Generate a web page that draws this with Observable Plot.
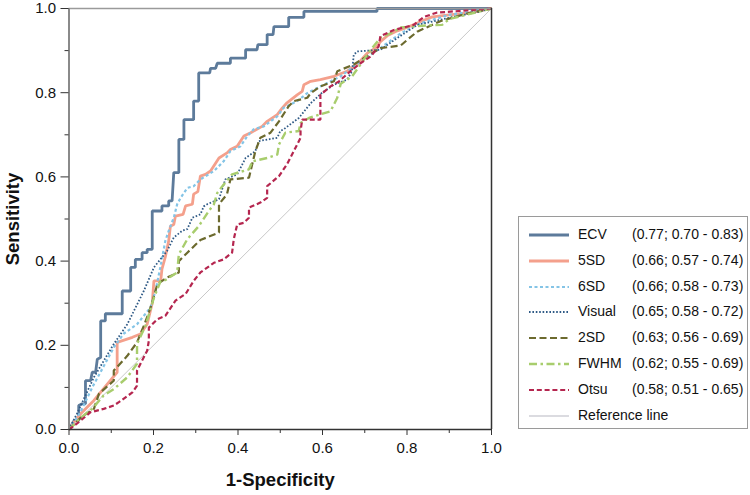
<!DOCTYPE html>
<html>
<head>
<meta charset="utf-8">
<script src="https://cdn.jsdelivr.net/npm/d3@7"></script>
<script src="https://cdn.jsdelivr.net/npm/@observablehq/plot@0.6"></script>
<style>
  body { margin: 0; background: #fff; font-family: "Liberation Sans", Arial, Helvetica, sans-serif; }
  #wrap { position: relative; width: 750px; height: 495px; }
  #legend { position: absolute; left: 518px; top: 216px; width: 230px; height: 213px; border: 1px solid #9a9a9a; box-sizing: border-box; background: #fff; }
  .row { position: absolute; left: 0; height: 20px; width: 100%; font-size: 14px; color: #111; }
  .row svg { position: absolute; left: 9px; top: 4px; }
  .row .nm { position: absolute; left: 59px; top: 1px; }
  .row .st { position: absolute; left: 113px; top: 1px; }
</style>
</head>
<body>
<div id="wrap"><div id="chart"></div><div id="legend"></div></div>
<script>
const seriesNames = ["ECV", "5SD", "6SD", "Visual", "2SD", "FWHM", "Otsu"];
const aucLabels = ["(0.77; 0.70 - 0.83)", "(0.66; 0.57 - 0.74)", "(0.66; 0.58 - 0.73)", "(0.65; 0.58 - 0.72)", "(0.63; 0.56 - 0.69)", "(0.62; 0.55 - 0.69)", "(0.58; 0.51 - 0.65)"];
const xTicks = [0, 0.2, 0.4, 0.6, 0.8, 1.0];
const minorTicks = [0.1, 0.3, 0.5, 0.7, 0.9];

// [1-specificity, sensitivity]
const ecv = [[0,0],[0.012,0.021],[0.023,0.021],[0.023,0.057],[0.031,0.061],[0.039,0.061],[0.039,0.116],[0.051,0.116],[0.055,0.136],[0.063,0.136],[0.067,0.167],[0.075,0.171],[0.075,0.258],[0.086,0.258],[0.086,0.275],[0.126,0.275],[0.126,0.329],[0.146,0.329],[0.146,0.385],[0.157,0.385],[0.157,0.404],[0.173,0.404],[0.173,0.42],[0.185,0.42],[0.185,0.428],[0.197,0.428],[0.197,0.519],[0.22,0.519],[0.22,0.531],[0.236,0.531],[0.236,0.543],[0.244,0.543],[0.248,0.61],[0.26,0.61],[0.26,0.689],[0.272,0.689],[0.272,0.736],[0.295,0.736],[0.295,0.78],[0.307,0.78],[0.307,0.847],[0.333,0.847],[0.335,0.858],[0.347,0.858],[0.351,0.87],[0.382,0.87],[0.382,0.882],[0.418,0.882],[0.418,0.902],[0.445,0.902],[0.447,0.914],[0.469,0.914],[0.469,0.938],[0.483,0.938],[0.485,0.957],[0.52,0.957],[0.52,0.979],[0.556,0.979],[0.556,0.993],[0.729,0.993],[0.729,1],[1,1]];
const sd5 = [[0,0],[0.01,0.015],[0.03,0.04],[0.047,0.057],[0.059,0.069],[0.114,0.136],[0.114,0.207],[0.15,0.219],[0.169,0.227],[0.185,0.25],[0.197,0.3],[0.201,0.353],[0.217,0.353],[0.22,0.381],[0.228,0.41],[0.236,0.448],[0.24,0.483],[0.248,0.487],[0.252,0.507],[0.27,0.511],[0.276,0.531],[0.292,0.535],[0.295,0.559],[0.305,0.565],[0.311,0.602],[0.323,0.606],[0.335,0.614],[0.355,0.645],[0.374,0.657],[0.382,0.665],[0.398,0.673],[0.414,0.697],[0.43,0.705],[0.457,0.72],[0.469,0.732],[0.493,0.748],[0.505,0.764],[0.516,0.776],[0.54,0.795],[0.552,0.803],[0.556,0.819],[0.572,0.827],[0.595,0.831],[0.627,0.839],[0.658,0.851],[0.682,0.867],[0.706,0.894],[0.725,0.906],[0.737,0.921],[0.753,0.935],[0.777,0.947],[0.8,0.955],[0.83,0.968],[0.86,0.98],[0.9,0.985],[0.95,0.99],[1,1]];
const sd6 = [[0,0],[0.027,0.041],[0.055,0.1],[0.082,0.15],[0.106,0.195],[0.13,0.228],[0.161,0.25],[0.193,0.29],[0.205,0.33],[0.217,0.39],[0.228,0.448],[0.236,0.472],[0.248,0.503],[0.256,0.535],[0.264,0.55],[0.28,0.574],[0.295,0.578],[0.311,0.594],[0.343,0.614],[0.366,0.637],[0.382,0.661],[0.406,0.673],[0.422,0.697],[0.437,0.713],[0.461,0.72],[0.493,0.744],[0.508,0.764],[0.54,0.78],[0.564,0.799],[0.595,0.815],[0.643,0.839],[0.69,0.874],[0.737,0.906],[0.785,0.941],[0.832,0.965],[0.9,0.985],[1,1]];
const visual = [[0,0],[0.02,0.04],[0.059,0.124],[0.106,0.203],[0.138,0.25],[0.177,0.329],[0.201,0.385],[0.232,0.424],[0.248,0.456],[0.268,0.472],[0.28,0.476],[0.292,0.503],[0.311,0.511],[0.319,0.53],[0.327,0.535],[0.355,0.547],[0.37,0.594],[0.398,0.606],[0.418,0.645],[0.441,0.661],[0.449,0.685],[0.493,0.693],[0.5,0.709],[0.508,0.713],[0.544,0.74],[0.572,0.775],[0.599,0.8],[0.627,0.819],[0.658,0.831],[0.67,0.851],[0.674,0.89],[0.682,0.898],[0.737,0.902],[0.777,0.93],[0.824,0.961],[0.9,0.978],[0.974,0.993],[1,1]];
const sd2 = [[0,0],[0.03,0.03],[0.059,0.049],[0.071,0.085],[0.106,0.116],[0.106,0.14],[0.138,0.175],[0.161,0.207],[0.169,0.227],[0.177,0.246],[0.189,0.278],[0.197,0.302],[0.209,0.345],[0.232,0.361],[0.26,0.373],[0.26,0.4],[0.28,0.42],[0.311,0.45],[0.355,0.468],[0.355,0.535],[0.374,0.559],[0.382,0.594],[0.426,0.598],[0.441,0.661],[0.453,0.693],[0.477,0.705],[0.497,0.732],[0.52,0.768],[0.532,0.78],[0.564,0.788],[0.572,0.799],[0.595,0.815],[0.627,0.827],[0.635,0.851],[0.674,0.867],[0.698,0.882],[0.737,0.906],[0.785,0.912],[0.8,0.925],[0.824,0.945],[0.879,0.97],[0.942,0.988],[1,1]];
const fwhm = [[0,0],[0.03,0.03],[0.055,0.049],[0.082,0.081],[0.106,0.096],[0.138,0.124],[0.161,0.156],[0.161,0.203],[0.181,0.246],[0.201,0.313],[0.217,0.353],[0.228,0.355],[0.256,0.373],[0.26,0.416],[0.28,0.452],[0.307,0.483],[0.331,0.519],[0.343,0.535],[0.351,0.562],[0.363,0.578],[0.386,0.606],[0.426,0.618],[0.434,0.637],[0.469,0.645],[0.493,0.653],[0.497,0.677],[0.512,0.705],[0.544,0.709],[0.548,0.728],[0.568,0.74],[0.619,0.756],[0.635,0.788],[0.643,0.821],[0.67,0.839],[0.69,0.867],[0.714,0.902],[0.737,0.93],[0.769,0.945],[0.785,0.955],[0.85,0.96],[0.883,0.961],[0.9,0.975],[1,1]];
const otsu = [[0,0],[0.02,0.015],[0.051,0.041],[0.082,0.049],[0.106,0.057],[0.118,0.065],[0.15,0.088],[0.161,0.104],[0.161,0.14],[0.173,0.164],[0.185,0.187],[0.189,0.211],[0.189,0.242],[0.209,0.262],[0.228,0.27],[0.252,0.306],[0.276,0.322],[0.295,0.353],[0.311,0.373],[0.343,0.396],[0.366,0.404],[0.386,0.42],[0.39,0.452],[0.398,0.487],[0.414,0.491],[0.426,0.503],[0.426,0.527],[0.453,0.539],[0.469,0.55],[0.469,0.578],[0.497,0.602],[0.516,0.63],[0.532,0.661],[0.548,0.693],[0.548,0.709],[0.552,0.736],[0.595,0.736],[0.595,0.795],[0.619,0.815],[0.639,0.827],[0.666,0.851],[0.69,0.87],[0.714,0.886],[0.733,0.91],[0.737,0.934],[0.769,0.949],[0.816,0.961],[0.84,0.98],[0.87,0.99],[1,1]];
const referenceLine = [[0,0],[1,1]];

const curves = [ecv, sd5, sd6, visual, sd2, fwhm, otsu];
const styles = [
  {stroke: "#5d7b9b", strokeWidth: 2.8, dash: null},
  {stroke: "#f4a08c", strokeWidth: 2.8, dash: null},
  {stroke: "#84c4e6", strokeWidth: 2.2, dash: "3,2.5"},
  {stroke: "#2f5a86", strokeWidth: 1.8, dash: "1.6,1.8"},
  {stroke: "#6c6a2e", strokeWidth: 2.2, dash: "7,3.5"},
  {stroke: "#a8cd6d", strokeWidth: 2.4, dash: "8,3.5,2.5,3.5"},
  {stroke: "#b5264f", strokeWidth: 2.2, dash: "5,2.8"}
];

const lineMarks = curves.map((c, i) => Plot.line(c, {
  x: d => d[0], y: d => d[1],
  stroke: styles[i].stroke, strokeWidth: styles[i].strokeWidth,
  strokeDasharray: styles[i].dash, strokeLinejoin: "miter", strokeLinecap: "butt"
}));

const chart = Plot.plot({
  width: 750, height: 495,
  marginLeft: 68.5, marginRight: 259, marginTop: 8, marginBottom: 66,
  style: {fontFamily: "'Liberation Sans', Arial, Helvetica, sans-serif", fontSize: "15px", color: "#111", background: "#fff", overflow: "visible"},
  x: {domain: [0, 1]},
  y: {domain: [0, 1]},
  marks: [
    Plot.line(referenceLine, {x: d => d[0], y: d => d[1], stroke: "#c8c8c8", strokeWidth: 1}),
    ...lineMarks,
    Plot.ruleY([1], {stroke: "#9a9a9a", strokeWidth: 1.5}),
    Plot.ruleX([1], {stroke: "#333", strokeWidth: 1.5}),
    Plot.ruleX([0], {stroke: "#8a8a8a", strokeWidth: 2}),
    Plot.ruleY([0], {stroke: "#333", strokeWidth: 1.5}),
    Plot.axisX({ticks: xTicks, tickFormat: d3.format(".1f"), tickSize: 6, tickPadding: 7, fontSize: 15, label: null, stroke: "#333"}),
    Plot.axisX({ticks: minorTicks, tickFormat: () => "", tickSize: 4, label: null, stroke: "#333"}),
    Plot.axisY({ticks: xTicks, tickFormat: d3.format(".1f"), tickSize: 8, tickPadding: 5, fontSize: 15, label: null, stroke: "#333"}),
    Plot.axisY({ticks: minorTicks, tickFormat: () => "", tickSize: 4, label: null, stroke: "#333"}),
    Plot.text(["1-Specificity"], {frameAnchor: "bottom", lineAnchor: "middle", textAnchor: "middle", dy: 51, fontWeight: "bold", fontSize: 18.5, fill: "#111"}),
    Plot.text(["Sensitivity"], {frameAnchor: "left", lineAnchor: "middle", textAnchor: "middle", dx: -56, rotate: -90, fontWeight: "bold", fontSize: 18.5, fill: "#111"})
  ]
});
document.getElementById("chart").appendChild(chart);

// legend
const legend = document.getElementById("legend");
const rowNames = [...seriesNames, "Reference line"];
rowNames.forEach((name, i) => {
  const row = document.createElement("div");
  row.className = "row";
  row.style.top = (8 + i * 25.8) + "px";
  const st = i < styles.length ? styles[i] : {stroke: "#cfcfd6", strokeWidth: 1.5, dash: null};
  row.innerHTML = `<svg width="42" height="12"><line x1="1" y1="6" x2="41" y2="6" stroke="${st.stroke}" stroke-width="${st.strokeWidth}" ${st.dash ? `stroke-dasharray="${st.dash}"` : ""}/></svg>` +
    `<span class="nm">${name}</span>` + (i < aucLabels.length ? `<span class="st">${aucLabels[i]}</span>` : "");
  legend.appendChild(row);
});
</script>
</body>
</html>
